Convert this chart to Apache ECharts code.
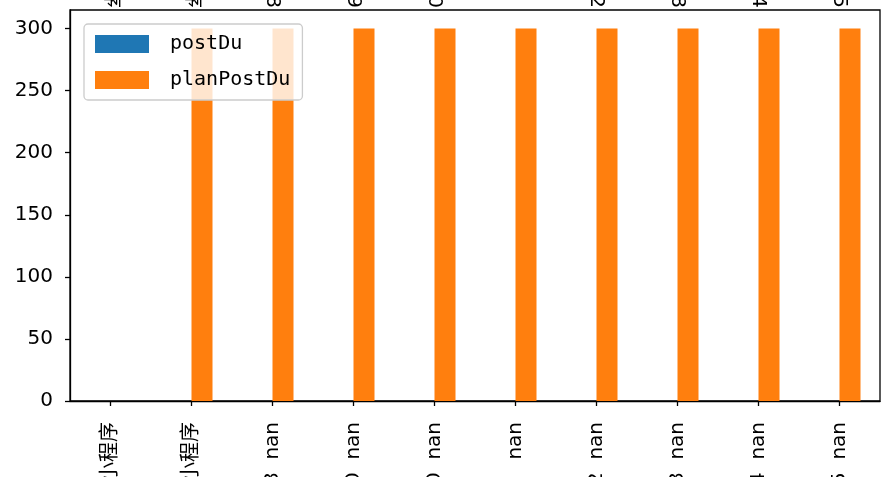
<!DOCTYPE html>
<html>
<head>
<meta charset="utf-8">
<script src="https://cdn.jsdelivr.net/npm/echarts@6/dist/echarts.min.js"></script>
<style>
html,body{margin:0;padding:0;background:#fff;}
#c{width:881px;height:477px;}
</style>
</head>
<body>
<div id="c"></div>
<script>
// Data
const categories = ['小程序', '小程序', '8  nan', '0  nan', '0  nan', '  nan', '2  nan', '8  nan', '4  nan', '5  nan'];
const topLabels = ['程序', '程序', '8', '9', '0', ' ', '2', '8', '4', '5'];
const postDu = [null, null, null, null, null, null, null, null, null, null];
const planPostDu = [null, 300, 300, 300, 300, 300, 300, 300, 300, 300];
const yTicks = [0, 50, 100, 150, 200, 250, 300];

const chart = echarts.init(document.getElementById('c'), null, {renderer: 'canvas'});
const labelFont = 'DejaVu Sans, Noto Sans CJK SC, sans-serif';
chart.setOption({
  animation: false,
  backgroundColor: '#fff',
  grid: {left: 70, right: 1, top: 10, bottom: 76, show: true, borderColor: '#000', borderWidth: 1.3,
         backgroundColor: 'transparent', containLabel: false, outerBoundsMode: 'none'},
  legend: {
    orient: 'vertical', left: 84, top: 24,
    padding: [10, 12, 10, 11],
    itemWidth: 54, itemHeight: 18, itemGap: 16,
    icon: 'rect',
    backgroundColor: 'rgba(255,255,255,0.8)',
    borderColor: '#cccccc', borderWidth: 1.3, borderRadius: 4,
    textStyle: {fontFamily: 'DejaVu Sans Mono', fontSize: 20, color: '#000', padding: [0, 0, 0, 16], width: 132},
    data: ['postDu', 'planPostDu']
  },
  xAxis: [{
    type: 'category', data: categories, position: 'bottom',
    axisLine: {show: true, lineStyle: {color: '#000', width: 1.3}},
    axisTick: {show: true, alignWithLabel: true, length: 5, lineStyle: {color: '#000', width: 1.3}},
    axisLabel: {rotate: 90, margin: 21, fontSize: 20, fontFamily: labelFont, color: '#000', interval: 0}
  }, {
    type: 'category', data: topLabels, position: 'top',
    axisLine: {show: false}, axisTick: {show: false},
    axisLabel: {rotate: 90, margin: 2, fontSize: 20, fontFamily: labelFont, color: '#000', interval: 0}
  }],
  yAxis: {
    type: 'value', min: 0, max: 315, interval: 50,
    axisLine: {show: true, lineStyle: {color: '#000', width: 1.3}},
    axisTick: {show: true, length: 5, lineStyle: {color: '#000', width: 1.3}, customValues: yTicks},
    axisLabel: {fontSize: 20, fontFamily: 'DejaVu Sans', color: '#000', margin: 17, customValues: yTicks},
    splitLine: {show: false}
  },
  series: [
    {name: 'postDu', type: 'bar', data: postDu, barWidth: 21, barGap: '0%', itemStyle: {color: '#1f77b4'}},
    {name: 'planPostDu', type: 'bar', data: planPostDu, barWidth: 21, barGap: '0%', itemStyle: {color: '#ff7f0e'}}
  ]
});
</script>
</body>
</html>
